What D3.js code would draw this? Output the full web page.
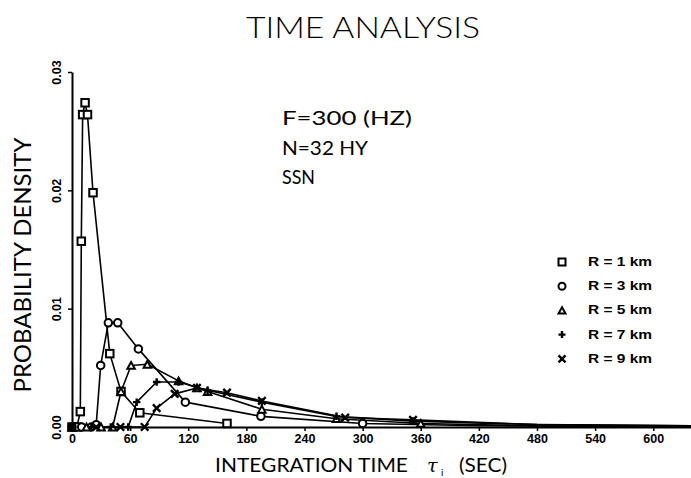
<!DOCTYPE html>
<html><head><meta charset="utf-8">
<script src="https://cdn.jsdelivr.net/npm/d3@7"></script>
<style>
body{margin:0;background:#fff;}
svg{display:block;}
</style></head>
<body>
<script>
// ---- data ----
const xTicks = [0,60,120,180,240,300,360,420,480,540,600];
const yTicks = [0.00,0.01,0.02,0.03];
const seriesNames = ["R = 1 km","R = 3 km","R = 5 km","R = 7 km","R = 9 km"];
const seriesSymbols = ["square","circle","triangle","plus","cross"];
const r1 = [[0,0],[5,0],[8.6,0.0013],[9.6,0.0157],[11,0.0264],[13.5,0.0274],[16,0.0264],[21.7,0.0198],[39,0.0062],[50.6,0.0030],[70,0.0012],[160,0.0003]];
const r3 = [[0,0],[10,0],[20,0],[25,0.0002],[29.6,0.0052],[37.5,0.0088],[47.2,0.0088],[68.5,0.0066],[117,0.0021],[195,0.0009],[300,0.0003],[420,0.0001],[640,0]];
const r5 = [[0,0],[15,0],[30,0],[42,0],[50.6,0.0030],[61,0.0052],[77.8,0.0053],[110,0.0039],[129,0.0033],[140,0.0030],[196,0.0015],[273,0.0007],[360,0.0003],[480,0.0001],[640,0]];
const r7 = [[0,0],[20,0],[40,0],[58,0],[66.8,0.0021],[87.4,0.0038],[110,0.0038],[140,0.0031],[196,0.0021],[273,0.0009],[352,0.0005],[480,0.0002],[640,0.0001]];
const r9 = [[0,0],[25,0],[50,0],[75,0],[87.4,0.0016],[106,0.0028],[129,0.0033],[160,0.0029],[196,0.0022],[282,0.0008],[352,0.0006],[480,0.0002],[640,0.0001]];
const seriesData = [r1,r3,r5,r7,r9];
const annotations = ["F=300 (HZ)","N=32 HY","SSN"];
const annotationWidths = [130,86,33];

// ---- layout ----
const W=691,H=478;
const svg=d3.select("body").append("svg").attr("width",W).attr("height",H);
const x=d3.scaleLinear().domain([0,640]).range([72,692]);
const y=d3.scaleLinear().domain([0,0.03]).range([427,72]);

const thin='Lato, "Open Sans", sans-serif';
const bold='"Liberation Sans", Arial, sans-serif';

// title
svg.append("text").attr("x",363).attr("y",38).attr("text-anchor","middle")
  .attr("font-family",thin).attr("font-weight",300).attr("font-size",30).attr("textLength",234).attr("lengthAdjust","spacingAndGlyphs")
  .text("TIME ANALYSIS");

// axes
const xAxis=svg.append("g").attr("transform","translate(0,427)")
  .call(d3.axisBottom(x).tickValues(xTicks).tickSize(4).tickSizeOuter(0).tickPadding(3).tickFormat(d=>d));
xAxis.select(".domain").attr("stroke-width",2);
xAxis.selectAll(".tick line").attr("stroke-width",1.5);
xAxis.selectAll("text").attr("font-family",bold).attr("font-weight","bold").attr("font-size",12.5).attr("fill","#000");

const yAxis=svg.append("g").attr("transform","translate(72,0)")
  .call(d3.axisLeft(y).tickValues(yTicks).tickSize(4).tickSizeOuter(0).tickFormat(d3.format(".2f")));
yAxis.select(".domain").attr("stroke-width",2);
yAxis.selectAll(".tick line").attr("stroke-width",1.5);
yAxis.selectAll("text").attr("font-family",bold).attr("font-weight","bold").attr("font-size",12.5).attr("fill","#000")
  .attr("x",0).attr("dy",null).attr("text-anchor","middle").attr("dominant-baseline","central")
  .attr("transform","translate(-15,0) rotate(-90)");

// axis titles
svg.append("text").attr("transform","translate(22,265) rotate(-90)").attr("text-anchor","middle").attr("dominant-baseline","central")
  .attr("font-family",thin).attr("font-weight",400).attr("font-size",23).attr("textLength",255).attr("lengthAdjust","spacingAndGlyphs")
  .text("PROBABILITY DENSITY");
svg.append("text").attr("x",215).attr("y",472).attr("font-family",thin).attr("font-weight",400).attr("font-size",20)
  .attr("textLength",193).attr("lengthAdjust","spacingAndGlyphs").text("INTEGRATION TIME");
svg.append("text").attr("x",427).attr("y",472).attr("font-family","DejaVu Serif, serif").attr("font-style","italic").attr("font-size",19).text("τ");
svg.append("text").attr("x",441).attr("y",476).attr("font-family",thin).attr("font-size",10).text("i");
svg.append("text").attr("x",459).attr("y",472).attr("font-family",thin).attr("font-weight",400).attr("font-size",20)
  .attr("textLength",48).attr("lengthAdjust","spacingAndGlyphs").text("(SEC)");

// annotations
annotations.forEach((t,i)=>{
  svg.append("text").attr("x",282).attr("y",125+i*29.5).attr("font-family",thin).attr("font-weight",400).attr("font-size",19)
    .attr("textLength",annotationWidths[i]).attr("lengthAdjust","spacingAndGlyphs").text(t);
});

// lines
const line=d3.line().x(d=>x(d[0])).y(d=>y(d[1]));
const plot=svg.append("g");
seriesData.forEach(s=>{
  plot.append("path").datum(s).attr("d",line).attr("fill","none").attr("stroke","#000").attr("stroke-width",1.6).attr("stroke-linejoin","round");
});

function drawSymbol(g,type,cx,cy,sz){
  if(type==="square"){
    g.append("rect").attr("x",cx-sz/2).attr("y",cy-sz/2).attr("width",sz).attr("height",sz).attr("fill","#fff").attr("stroke","#000").attr("stroke-width",2);
  } else if(type==="circle"){
    g.append("circle").attr("cx",cx).attr("cy",cy).attr("r",sz/2).attr("fill","#fff").attr("stroke","#000").attr("stroke-width",2);
  } else if(type==="triangle"){
    const h=sz*0.9;
    g.append("path").attr("d",`M${cx},${cy-h/2}L${cx+sz/2},${cy+h/2}L${cx-sz/2},${cy+h/2}Z`).attr("fill","#fff").attr("stroke","#000").attr("stroke-width",2);
  } else if(type==="plus"){
    g.append("path").attr("d",`M${cx-sz/2},${cy}L${cx+sz/2},${cy}M${cx},${cy-sz/2}L${cx},${cy+sz/2}`).attr("stroke","#000").attr("stroke-width",2.4);
  } else {
    g.append("path").attr("d",`M${cx-sz/2},${cy-sz/2}L${cx+sz/2},${cy+sz/2}M${cx+sz/2},${cy-sz/2}L${cx-sz/2},${cy+sz/2}`).attr("stroke","#000").attr("stroke-width",2.4);
  }
}
seriesData.forEach((s,i)=>{
  s.forEach(d=>{
    if(d[0]<=400) drawSymbol(plot,seriesSymbols[i],x(d[0]),y(d[1]),7.5);
  });
});

// legend
seriesNames.forEach((n,i)=>{
  const yy=262+i*24.2;
  drawSymbol(svg,seriesSymbols[i],562,yy,7);
  svg.append("text").attr("x",588).attr("y",yy).attr("dominant-baseline","central")
    .attr("font-family",bold).attr("font-weight","bold").attr("font-size",12.5)
    .attr("textLength",64).attr("lengthAdjust","spacingAndGlyphs").attr("xml:space","preserve").text(n);
});
</script>
</body></html>
